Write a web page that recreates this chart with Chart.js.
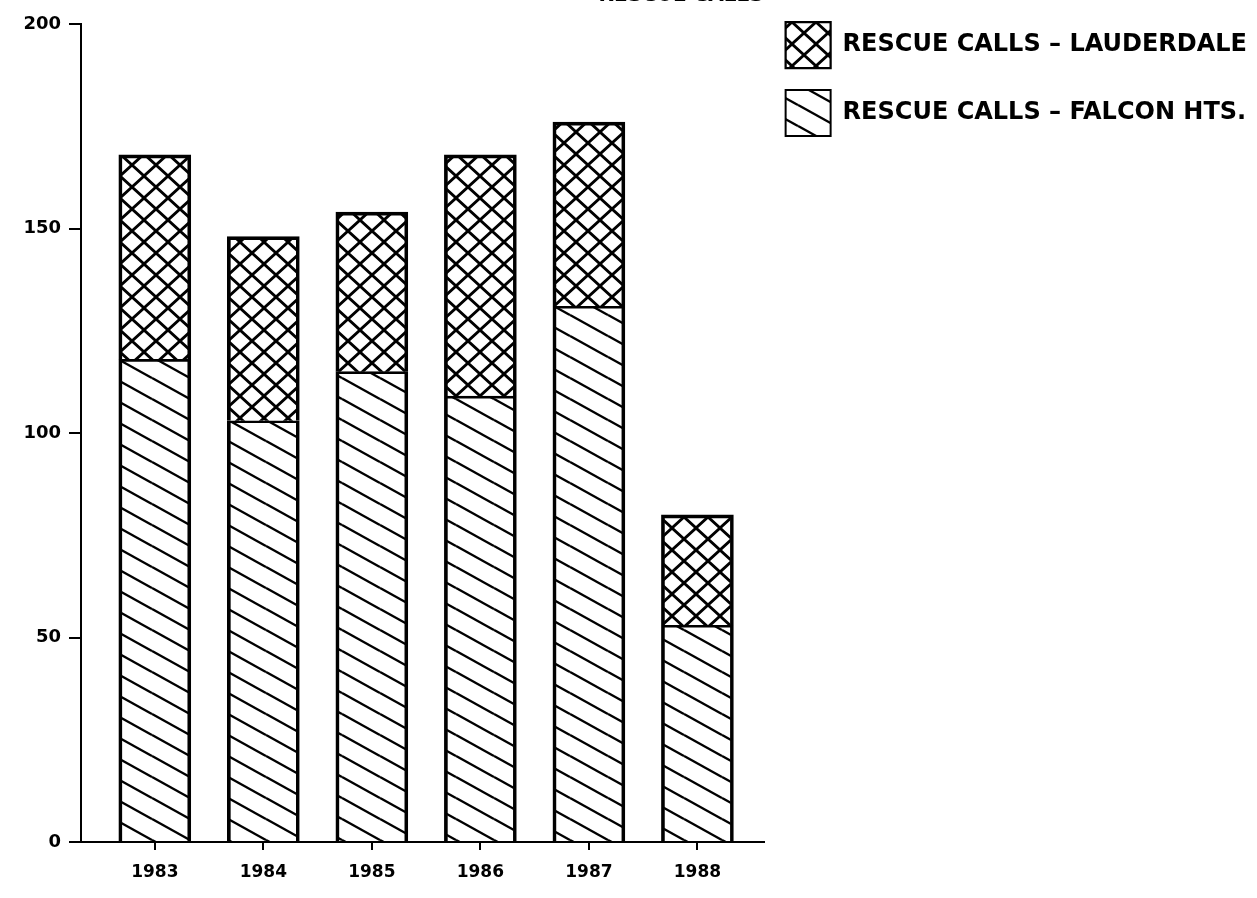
<!DOCTYPE html>
<html>
<head>
<meta charset="utf-8">
<script src="https://cdn.jsdelivr.net/npm/chart.js@4"></script>
<style>
  html, body { margin: 0; padding: 0; background: #fff; }
  canvas { display: block; }
</style>
</head>
<body>
<canvas id="chart" width="1257" height="898"></canvas>
<script>
const years = ['1983', '1984', '1985', '1986', '1987', '1988'];
const falconHts = [118, 103, 115, 109, 131, 53];
const lauderdale = [50, 45, 39, 59, 45, 27];
const yTicks = [0, 50, 100, 150, 200];

// hatch fills, drawn on small tiles
function diagonalHatch() {
  const W = 38, H = 21;
  const c = document.createElement('canvas');
  c.width = W; c.height = H;
  const g = c.getContext('2d');
  g.strokeStyle = '#000';
  g.lineWidth = 2.4;
  for (let dx = -W; dx <= W; dx += W) {
    for (let dy = -H; dy <= H; dy += H) {
      g.beginPath();
      g.moveTo(dx, dy);
      g.lineTo(dx + W, dy + H);
      g.stroke();
    }
  }
  return g.createPattern(c, 'repeat');
}

function crossHatch() {
  const W = 24, H = 22;
  const c = document.createElement('canvas');
  c.width = W; c.height = H;
  const g = c.getContext('2d');
  g.strokeStyle = '#000';
  g.lineWidth = 2.8;
  for (let dx = -W; dx <= W; dx += W) {
    for (let dy = -H; dy <= H; dy += H) {
      g.beginPath();
      g.moveTo(dx, dy);
      g.lineTo(dx + W, dy + H);
      g.moveTo(dx, dy + H);
      g.lineTo(dx + W, dy);
      g.stroke();
    }
  }
  return g.createPattern(c, 'repeat');
}

const font = { family: 'DejaVu Sans', weight: 'bold' };

new Chart(document.getElementById('chart'), {
  type: 'bar',
  data: {
    datasets: [{
      label: 'RESCUE CALLS \u2013 FALCON HTS.',
      data: falconHts.map((v, i) => ({ x: i, y: v })),
      backgroundColor: diagonalHatch(),
      borderColor: '#000',
      borderWidth: { left: 3, right: 3, top: 2, bottom: 0 },
      borderSkipped: false,
      barThickness: 72
    }, {
      label: 'RESCUE CALLS \u2013 LAUDERDALE',
      data: lauderdale.map((v, i) => ({ x: i, y: v })),
      backgroundColor: crossHatch(),
      borderColor: '#000',
      borderWidth: { left: 3, right: 3, top: 3, bottom: 0 },
      borderSkipped: false,
      barThickness: 72
    }]
  },
  options: {
    responsive: false,
    animation: false,
    layout: { padding: 0 },
    plugins: {
      tooltip: { enabled: false },
      title: {
        display: true,
        text: 'RESCUE CALLS',
        fullSize: false,
        align: 'end',
        color: '#000',
        font: { ...font, size: 20 },
        padding: { top: -16, bottom: 16 }
      },
      legend: {
        position: 'right',
        align: 'start',
        reverse: true,
        maxWidth: 700,
        labels: {
          color: '#000',
          font: { ...font, size: 24 },
          boxWidth: 45,
          boxHeight: 46,
          padding: 22
        }
      }
    },
    scales: {
      x: {
        type: 'linear',
        stacked: true,
        offset: false,
        min: -0.68,
        max: 5.61,
        afterBuildTicks: s => { s.ticks = years.map((_, i) => ({ value: i })); },
        afterFit: s => { s.height = 56; },
        ticks: {
          color: '#000',
          font: { ...font, size: 17 },
          padding: 12,
          callback: v => years[v]
        },
        grid: { offset: false, drawOnChartArea: false, color: '#000', lineWidth: 2, tickLength: 8 },
        border: { color: '#000', width: 2 }
      },
      y: {
        stacked: true,
        min: 0,
        max: 200,
        afterBuildTicks: s => { s.ticks = yTicks.map(v => ({ value: v })); },
        afterFit: s => { s.width = 81; },
        ticks: {
          color: '#000',
          font: { ...font, size: 18 },
          padding: 8
        },
        grid: { drawOnChartArea: false, color: '#000', lineWidth: 2, tickLength: 12 },
        border: { color: '#000', width: 2 }
      }
    }
  }
});
</script>
</body>
</html>
